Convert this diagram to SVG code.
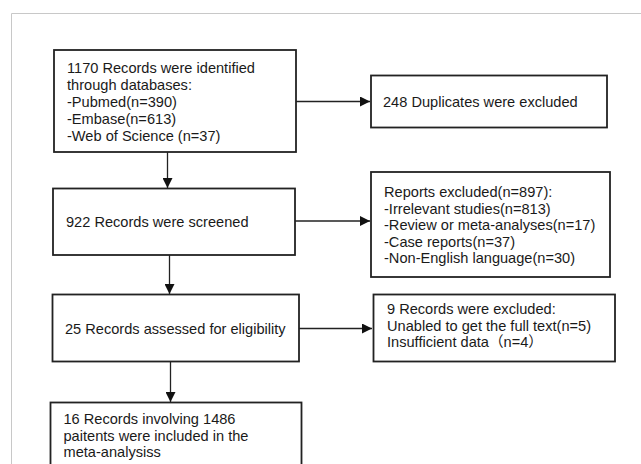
<svg xmlns="http://www.w3.org/2000/svg" width="641" height="464" viewBox="0 0 641 464">
<defs>
<style>
.box{fill:#fff;stroke:#222;stroke-width:1.8}
.t{font-family:"Liberation Sans",Arial,"Noto Sans CJK SC",sans-serif;font-size:14.6px;fill:#1a1a1a}
.c{stroke:#222;stroke-width:1.3;fill:none}
</style>
<marker id="ah" viewBox="0 0 10 10" refX="10" refY="5" markerWidth="10" markerHeight="10" markerUnits="userSpaceOnUse" orient="auto">
<path d="M0,0 L10,5 L0,10 z" fill="#111"/>
</marker>
</defs>
<rect width="641" height="464" fill="#fff"/>
<path d="M11.5,470 V13.5 H650" fill="none" stroke="#c8c8c8" stroke-width="1"/>
<g id="connectors">
<line class="c" x1="296" y1="101.5" x2="370" y2="101.5" marker-end="url(#ah)"/>
<line class="c" x1="167.5" y1="152" x2="167.5" y2="188" marker-end="url(#ah)"/>
<line class="c" x1="295" y1="221" x2="370" y2="221" marker-end="url(#ah)"/>
<line class="c" x1="169.5" y1="255" x2="169.5" y2="294" marker-end="url(#ah)"/>
<line class="c" x1="299" y1="328.5" x2="372" y2="328.5" marker-end="url(#ah)"/>
<line class="c" x1="170.5" y1="362" x2="170.5" y2="402" marker-end="url(#ah)"/>
</g>
<g id="n1">
<rect class="box" x="54" y="50" width="242" height="102"/>
<text class="t" x="67" y="73">1170 Records were identified</text>
<text class="t" x="67" y="90">through databases:</text>
<text class="t" x="67" y="107">-Pubmed(n=390)</text>
<text class="t" x="67" y="124">-Embase(n=613)</text>
<text class="t" x="67" y="141">-Web of Science (n=37)</text>
</g>
<g id="n2">
<rect class="box" x="371" y="75.5" width="236" height="52"/>
<text class="t" x="383" y="107">248 Duplicates were excluded</text>
</g>
<g id="n3">
<rect class="box" x="53" y="188.5" width="242" height="66.5"/>
<text class="t" x="66" y="227">922 Records were screened</text>
</g>
<g id="n4">
<rect class="box" x="371" y="172" width="239" height="105"/>
<text class="t" x="384" y="197">Reports excluded(n=897):</text>
<text class="t" x="384" y="213.5">-Irrelevant studies(n=813)</text>
<text class="t" x="384" y="230">-Review or meta-analyses(n=17)</text>
<text class="t" x="384" y="246.5">-Case reports(n=37)</text>
<text class="t" x="384" y="263">-Non-English language(n=30)</text>
</g>
<g id="n5">
<rect class="box" x="52.5" y="294.5" width="246.5" height="67"/>
<text class="t" x="65" y="333.5">25 Records assessed for eligibility</text>
</g>
<g id="n6">
<rect class="box" x="373.5" y="294.5" width="241.5" height="67"/>
<text class="t" x="387" y="314">9 Records were excluded:</text>
<text class="t" x="387" y="330.5">Unabled to get the full text(n=5)</text>
<text class="t" x="387" y="347">Insufficient data（n=4）</text>
</g>
<g id="n7">
<rect class="box" x="50.5" y="402.5" width="251" height="80"/>
<text class="t" x="63.5" y="424">16 Records involving 1486</text>
<text class="t" x="63.5" y="440.5">paitents were included in the</text>
<text class="t" x="63.5" y="457">meta-analysiss</text>
</g>
</svg>
